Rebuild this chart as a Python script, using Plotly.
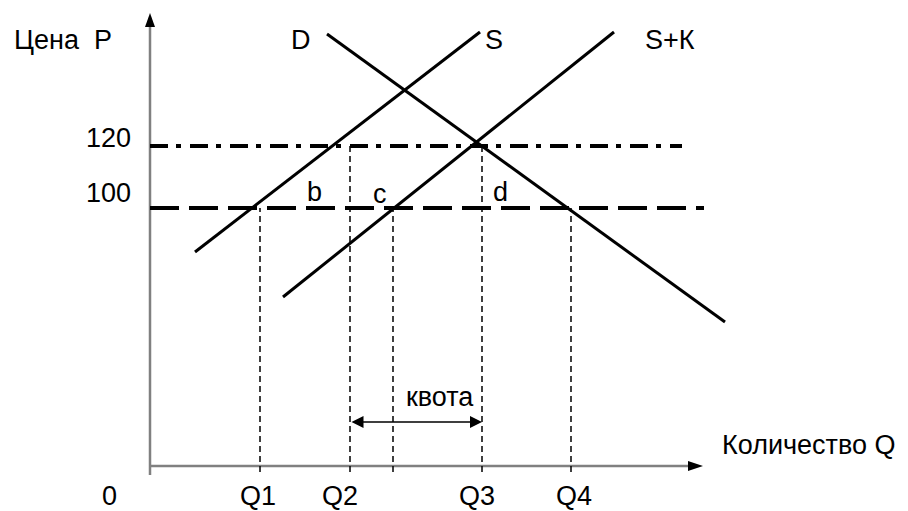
import plotly.graph_objects as go

# chart units: horizontal = quantity, vertical = price level (axis origin at 0, 0)
supply_q = [4.5, 33.0]
supply_p = [21.4, 43.4]
demand_q = [17.7, 57.5]
demand_p = [43.2, 14.4]
supply_quota_q = [13.3, 46.4]
supply_quota_p = [16.9, 43.4]

price_labels = ["100", "120"]
price_levels = [25.8, 32.0]
price_line_end = [55.4, 53.2]

q_labels = ["Q1", "Q2", "", "Q3", "Q4"]
q_values = [11.0, 20.0, 24.3, 33.2, 42.1]
q_tops = [25.8, 32.0, 25.8, 32.0, 25.8]

quota_level = 4.4
curve_names = ["D", "S", "S+К"]

FONT = dict(family="Liberation Sans, Arial, sans-serif", size=27, color="#000000")
AXIS_GREY = "#808080"
# the page body adds an 8px margin, so the figure is 8px smaller and ranges start past it
X_RANGE = [-14.2, 75.8]
Y_RANGE = [-4.5, 45.8]

fig = go.Figure()

def add_line(x, y, width=3, color="black", dash="solid"):
    fig.add_trace(go.Scatter(x=x, y=y, mode="lines", hoverinfo="skip", showlegend=False,
                             line=dict(color=color, width=width, dash=dash)))

# axes
add_line([0, 0], [-0.9, 44.0], width=2.5, color=AXIS_GREY)
add_line([0, 54.0], [0, 0], width=2.5, color=AXIS_GREY)

# drop lines to the quantity axis
for q, top in zip(q_values, q_tops):
    add_line([q, q], [-0.6, top], width=1.5, dash="6px,4px")

# price lines
add_line([0, price_line_end[0]], [price_levels[0]] * 2, width=4, dash="29px,10px")
add_line([0, price_line_end[1]], [price_levels[1]] * 2, width=4, dash="18px,8px,5px,9px")

# curves
add_line(supply_q, supply_p)
add_line(demand_q, demand_p)
add_line(supply_quota_q, supply_quota_p)

# arrow heads on the axes
fig.add_shape(type="path", xref="x", yref="y", xsizemode="pixel", ysizemode="pixel",
              xanchor=0, yanchor=45.3, path="M0,0 L-5,-14 L5,-14 Z",
              fillcolor="black", line_width=0)
fig.add_shape(type="path", xref="x", yref="y", xsizemode="pixel", ysizemode="pixel",
              xanchor=55.3, yanchor=0, path="M0,0 L-15,5 L-15,-5 Z",
              fillcolor="black", line_width=0)

# quota double arrow
fig.add_annotation(x=q_values[3], y=quota_level, ax=q_values[1], ay=quota_level,
                   xref="x", yref="y", axref="x", ayref="y", text="",
                   showarrow=True, arrowside="end+start", arrowhead=2, startarrowhead=2,
                   arrowsize=1.6, startarrowsize=1.6, arrowwidth=1.5, arrowcolor="black")

labels = [
    ("Цена  P", -8.7, 42.6),
    (curve_names[0], 15.1, 42.6),
    (curve_names[1], 34.4, 42.6),
    (curve_names[2], 52.0, 42.6),
    (price_labels[1], -4.2, 32.8),
    (price_labels[0], -4.2, 27.3),
    ("b", 16.4, 27.4),
    ("c", 23.0, 27.2),
    ("d", 35.0, 27.4),
    ("квота", 29.0, 6.9),
    ("Количество Q", 65.9, 2.1),
    ("0", -4.1, -3.0),
]
for text, x, y in labels:
    fig.add_annotation(x=x, y=y, text=text, showarrow=False, font=FONT,
                       xanchor="center", yanchor="middle")

label_x = [10.8, 19.0, None, 32.7, 42.4]
for text, x in zip(q_labels, label_x):
    if text:
        fig.add_annotation(x=x, y=-3.0, text=text, showarrow=False, font=FONT,
                           xanchor="center", yanchor="middle")

fig.update_xaxes(visible=False, range=X_RANGE, fixedrange=True)
fig.update_yaxes(visible=False, range=Y_RANGE, fixedrange=True)
fig.update_layout(width=900, height=503, autosize=False,
                  margin=dict(l=0, r=0, t=0, b=0),
                  plot_bgcolor="white", paper_bgcolor="white")

fig.write_html("out.html")
